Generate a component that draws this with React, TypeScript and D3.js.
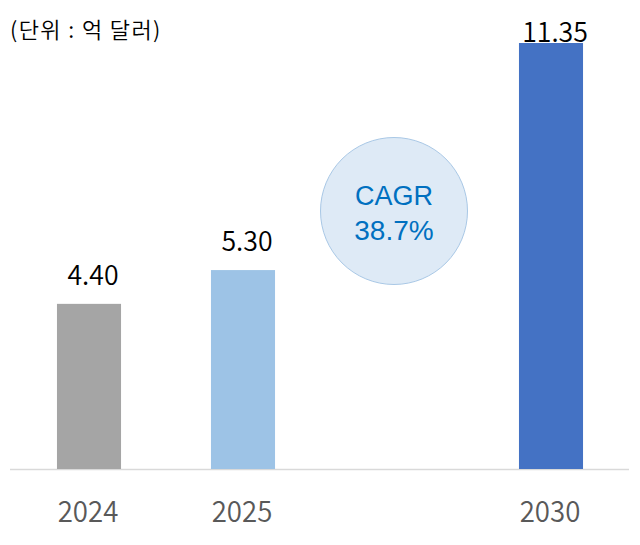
import React from "react";
import * as d3 from "d3";

const categories = ["2024", "2025", "", "2030"];
const values: (number | null)[] = [4.4, 5.3, null, 11.35];
const valueLabels = ["4.40", "5.30", "", "11.35"];
const barColors = ["#a5a5a5", "#9dc3e6", "none", "#4472c4"];
const unitLabel = "(단위 : 억 달러)";
const cagrLines = ["CAGR", "38.7%"];

const W = 640;
const H = 545;
const left = 12;
const right = 628;
const baseline = 469;
const top = 43;

export default function App() {
  const keys = categories.map((c, i) => c + "#" + i);
  const x = d3.scaleBand<string>().domain(keys).range([left, right]).paddingInner(0.584).paddingOuter(0.292);
  const y = d3.scaleLinear().domain([0, 11.35]).range([baseline, top]);
  const bw = x.bandwidth();
  const numFont = "'Noto Sans CJK KR', 'Noto Sans', sans-serif";
  const cagrX = x(keys[2])! + bw / 2 - 3;
  return (
    <svg width={W} height={H} style={{ position: "absolute", left: 0, top: 0, background: "#fff" }}>
      <text x={10} y={38} fontFamily={numFont} fontSize={22} fontWeight={350} letterSpacing={1.4} fill="#000">{unitLabel}</text>
      <line x1={10} x2={629} y1={baseline + 0.5} y2={baseline + 0.5} stroke="#d9d9d9" strokeWidth={1.5} />
      {values.map((v, i) =>
        v == null ? null : (
          <g key={i}>
            <rect x={x(keys[i])} y={y(v)} width={bw} height={baseline - y(v)} fill={barColors[i]} />
            <text
              transform={`translate(${x(keys[i])! + bw / 2 + 4},${Math.max(y(v) - 19, 42)}) scale(0.97,1)`}
              textAnchor="middle"
              fontFamily={numFont}
              fontSize={27.5}
              fontWeight={350}
              fill="#000"
            >
              {valueLabels[i]}
            </text>
          </g>
        )
      )}
      {categories.map((c, i) =>
        c ? (
          <text
            key={c}
            transform={`translate(${x(keys[i])! + bw / 2 - 1},522) scale(0.92,1)`}
            textAnchor="middle"
            fontFamily={numFont}
            fontSize={30}
            fontWeight={350}
            fill="#595959"
          >
            {c}
          </text>
        ) : null
      )}
      <circle cx={cagrX} cy={211} r={73.5} fill="#deeaf6" stroke="#a9c8e6" strokeWidth={1} />
      <text x={cagrX} y={205} textAnchor="middle" fontFamily="'Liberation Sans', Arial, sans-serif" fontSize={27} fill="#0070c0">{cagrLines[0]}</text>
      <text x={cagrX} y={240} textAnchor="middle" fontFamily="'Liberation Sans', Arial, sans-serif" fontSize={28} fill="#0070c0">{cagrLines[1]}</text>
    </svg>
  );
}
